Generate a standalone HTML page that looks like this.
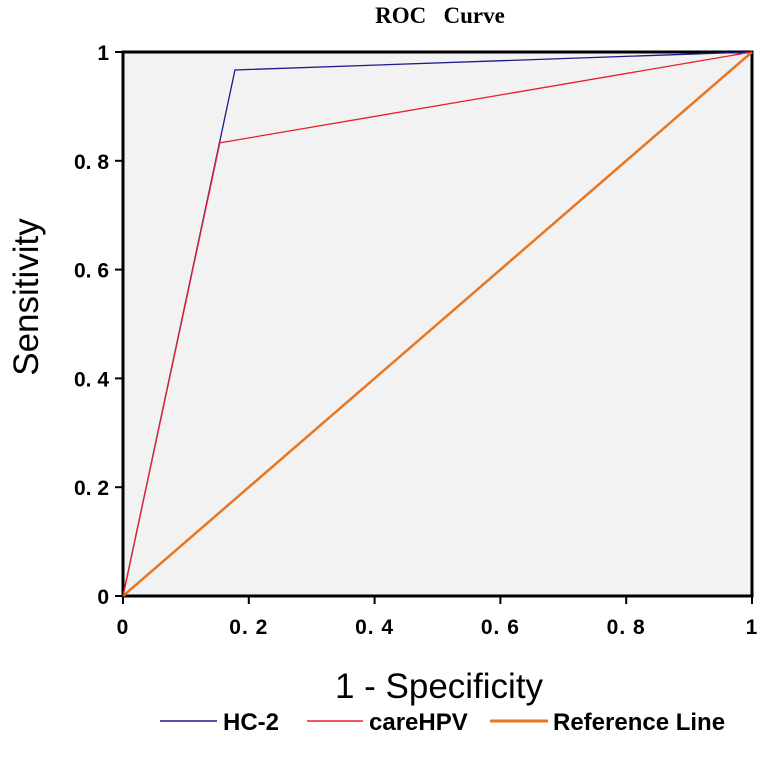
<!DOCTYPE html>
<html><head><meta charset="utf-8"><style>
body{margin:0;background:#fff}
svg{display:block}
</style></head><body>
<svg width="761" height="761" xmlns="http://www.w3.org/2000/svg">
<text x="440" y="23" text-anchor="middle" font-family="Liberation Serif, serif" font-weight="bold" font-size="23" style="white-space:pre">ROC   Curve</text>
<rect x="123" y="52" width="629" height="544" fill="#f2f2f2" stroke="#000" stroke-width="3"/>
<g id="ticks"></g>
<g id="series"></g>
<text x="439" y="698" text-anchor="middle" font-family="Liberation Sans, sans-serif" font-size="35">1 - Specificity</text>
<text transform="translate(38,297) rotate(-90)" text-anchor="middle" font-family="Liberation Sans, sans-serif" font-size="35">Sensitivity</text>
<g font-family="Liberation Sans, sans-serif" font-weight="bold" font-size="24">
<g><line x1="160" y1="721" x2="217" y2="721" stroke="#1a1a8c" stroke-width="1.5"/><text x="223" y="730">HC-2</text></g>
<g><line x1="307" y1="721" x2="363" y2="721" stroke="#e8202a" stroke-width="1.5"/><text x="369" y="730">careHPV</text></g>
<g><line x1="490" y1="721" x2="548" y2="721" stroke="#e87722" stroke-width="3"/><text x="553" y="730">Reference Line</text></g>
</g>
</svg>
<script>
const ticks=[0,0.2,0.4,0.6,0.8,1];
const tickLabels=["0","0. 2","0. 4","0. 6","0. 8","1"];
const yTickLabels=["0","0. 2","0. 4","0. 6","0. 8","1"];
const hc2X=[0,0.178,1];
const hc2Y=[0,0.967,1];
const careX=[0,0.154,1];
const careY=[0,0.833,1];
const refX=[0,1];
const refY=[0,1];
const NS="http://www.w3.org/2000/svg";
const X0=123,X1=752,Y0=596,Y1=52;
const sx=v=>X0+v*(X1-X0), sy=v=>Y0-v*(Y0-Y1);
const tg=document.getElementById('ticks');
ticks.forEach((t,i)=>{
 let l=document.createElementNS(NS,'line');
 l.setAttribute('x1',sx(t));l.setAttribute('x2',sx(t));l.setAttribute('y1',Y0);l.setAttribute('y2',Y0+8);
 l.setAttribute('stroke','#000');l.setAttribute('stroke-width','2');
 
 
 tg.appendChild(l);
 let tx=document.createElementNS(NS,'text');
 tx.setAttribute('x',sx(t));tx.setAttribute('y',Y0+38);tx.setAttribute('text-anchor','middle');
 tx.setAttribute('font-family','Liberation Sans, sans-serif');tx.setAttribute('font-weight','bold');tx.setAttribute('font-size','21');
 tx.setAttribute('letter-spacing','1');
 tx.textContent=tickLabels[i];
 
 
 tg.appendChild(tx);
 let l2=document.createElementNS(NS,'line');
 l2.setAttribute('x1',X0-8);l2.setAttribute('x2',X0);l2.setAttribute('y1',sy(t));l2.setAttribute('y2',sy(t));
 l2.setAttribute('stroke','#000');l2.setAttribute('stroke-width','2');
 
 
 tg.appendChild(l2);
 let ty=document.createElementNS(NS,'text');
 ty.setAttribute('x',X0-14);ty.setAttribute('y',sy(t)+8);ty.setAttribute('text-anchor','end');
 ty.setAttribute('font-family','Liberation Sans, sans-serif');ty.setAttribute('font-weight','bold');ty.setAttribute('font-size','21');
 ty.textContent=yTickLabels[i];
 
 
 tg.appendChild(ty);
});
const sg=document.getElementById('series');
function line(xs,ys,color,w,name){
 let p=document.createElementNS(NS,'polyline');
 p.setAttribute('points',xs.map((x,i)=>sx(x)+','+sy(ys[i])).join(' '));
 p.setAttribute('fill','none');p.setAttribute('stroke',color);p.setAttribute('stroke-width',w);
 
 
 sg.appendChild(p);
}
line(refX,refY,'#e87722',2.5,'reference-line');
line(hc2X,hc2Y,'#1a1a8c',1.3,'hc2-curve');
line(careX,careY,'#e8202a',1.3,'carehpv-curve');
</script>
</body></html>
